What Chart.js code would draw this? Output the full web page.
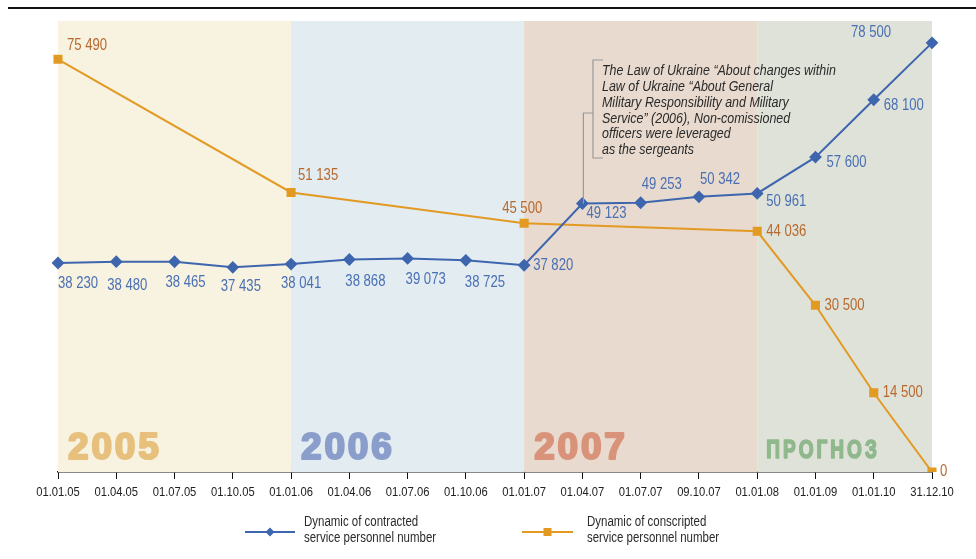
<!DOCTYPE html>
<html>
<head>
<meta charset="utf-8">
<script src="https://cdn.jsdelivr.net/npm/chart.js@4"></script>
<style>
  html, body { margin: 0; padding: 0; background: #fff; }
  #wrap { width: 976px; height: 559px; }
</style>
</head>
<body>
<div id="wrap"><canvas id="staffChart" width="976" height="559"></canvas></div>
<script>
const dateLabels = ['01.01.05', '01.04.05', '01.07.05', '01.10.05', '01.01.06', '01.04.06', '01.07.06', '01.10.06',
    '01.01.07', '01.04.07', '01.07.07', '09.10.07', '01.01.08', '01.01.09', '01.01.10', '31.12.10'];
const contractedValues = [38230, 38480, 38465, 37435, 38041, 38868, 39073, 38725,
    37820, 49123, 49253, 50342, 50961, 57600, 68100, 78500];
const conscriptedValues = [75490, null, null, null, 51135, null, null, null,
    45500, null, null, null, 44036, 30500, 14500, 0];
const periodNames = ['2005', '2006', '2007', 'ПРОГНОЗ'];
const periodStarts = [0, 4, 8, 12];
const periodEnds = [4, 8, 12, 15];
const lawNote = [
    'The Law of Ukraine \u201cAbout changes within',
    'Law of Ukraine \u201cAbout General',
    'Military Responsibility and Military',
    'Service\u201d (2006), Non-comissioned',
    'officers were leveraged',
    'as the sergeants'
];
const legendNames = [
    ['Dynamic of contracted', 'service personnel number'],
    ['Dynamic of conscripted', 'service personnel number']
];

// label placement next to each point: [dx, dy] from the point, text drawn left-aligned
const contractedLabelPos = [[0, 21], [-9, 24], [-9, 21], [-12, 19], [-10, 20], [-4, 22], [-2, 21], [-1, 22],
    [9, 0], [4, 10], [1, -18], [1, -17], [9, 8], [11, 5], [10, 6], [-81, -10]];
const conscriptedLabelPos = [[9, -14], null, null, null, [7, -17], null, null, null,
    [-22, -15], null, null, null, [9, 0], [9, 0], [9, 0], [8, 0]];

const blue = '#3e66ae';
const orange = '#e29a23';
const sans = '"Liberation Sans", Arial, sans-serif';
const periodFills = ['#f8f2e1', '#e2ecf1', '#e8dace', '#dfe2d9'];
const periodColors = ['#e8c07e', '#8b9ecb', '#d8937a', '#8fb88c'];

function formatNumber(v) {
    return String(v).replace(/\B(?=(\d{3})+(?!\d))/g, ' ');
}

// condensed text: regular face squeezed horizontally
function narrowText(ctx, text, x, y, align, squeeze) {
    ctx.save();
    ctx.translate(x, y);
    ctx.scale(squeeze || 0.82, 1);
    ctx.textAlign = align || 'left';
    ctx.fillText(text, 0, 0);
    ctx.restore();
}

// heavy display lettering: filled and outlined in the same colour
function heavyText(ctx, text, x, y, squeeze, spacing, outline) {
    ctx.save();
    ctx.translate(x, y);
    ctx.scale(squeeze, 1);
    ctx.textAlign = 'left';
    ctx.lineWidth = outline / squeeze;
    ctx.lineJoin = 'round';
    let cx = 0;
    for (const ch of text) {
        ctx.fillText(ch, cx, 0);
        ctx.strokeText(ch, cx, 0);
        cx += ctx.measureText(ch).width + spacing / squeeze;
    }
    ctx.restore();
}

const backgroundPlugin = {
    id: 'periods',
    beforeDatasetsDraw(chart) {
        const ctx = chart.ctx;
        const x = chart.scales.x;
        const area = chart.chartArea;
        ctx.save();
        // rule across the top
        ctx.fillStyle = '#111';
        ctx.fillRect(8, 7, 968, 2);
        periodStarts.forEach((start, i) => {
            const left = x.getPixelForValue(start);
            const right = x.getPixelForValue(periodEnds[i]);
            ctx.fillStyle = periodFills[i];
            ctx.fillRect(left, area.top, right - left, area.bottom - area.top);
        });
        ctx.textBaseline = 'alphabetic';
        periodNames.forEach((name, i) => {
            const left = x.getPixelForValue(periodStarts[i]);
            ctx.fillStyle = periodColors[i];
            ctx.strokeStyle = periodColors[i];
            if (i < 3) {
                ctx.font = 'bold 37px ' + sans;
                heavyText(ctx, name, left + 10, 459, 1.0, 2.8, 2.2);
            } else {
                ctx.font = 'bold 26.5px ' + sans;
                heavyText(ctx, name, left + 9, 458, 0.72, 3, 1.2);
            }
        });
        ctx.restore();
    }
};

const notesPlugin = {
    id: 'notes',
    afterDatasetsDraw(chart) {
        const ctx = chart.ctx;
        const x = chart.scales.x;
        const y = chart.scales.y;
        ctx.save();
        ctx.textBaseline = 'middle';

        // date labels under the axis
        ctx.fillStyle = '#222';
        ctx.font = '13.5px ' + sans;
        dateLabels.forEach((label, i) => {
            narrowText(ctx, label, x.getPixelForValue(i), 492, 'center', 0.83);
        });

        ctx.font = '16px ' + sans;
        const series = [
            { values: contractedValues, pos: contractedLabelPos, color: '#4a70b3' },
            { values: conscriptedValues, pos: conscriptedLabelPos, color: '#b8692e' }
        ];
        series.forEach(s => {
            ctx.fillStyle = s.color;
            s.values.forEach((v, i) => {
                if (v === null) return;
                const px = x.getPixelForValue(i);
                const py = y.getPixelForValue(v);
                narrowText(ctx, formatNumber(v), px + s.pos[i][0], py + s.pos[i][1], 'left', 0.82);
            });
        });

        // bracket pointing to the 01.04.07 point
        const ax = x.getPixelForValue(9) + 1;
        const ay = y.getPixelForValue(contractedValues[9]);
        ctx.strokeStyle = '#9a9a9a';
        ctx.lineWidth = 1.2;
        ctx.beginPath();
        ctx.moveTo(ax, ay);
        ctx.lineTo(ax, 113);
        ctx.lineTo(593, 113);
        ctx.moveTo(603, 60);
        ctx.lineTo(593, 60);
        ctx.lineTo(593, 158);
        ctx.lineTo(603, 158);
        ctx.stroke();

        ctx.fillStyle = '#2a2a2a';
        ctx.font = 'italic 15px ' + sans;
        lawNote.forEach((line, i) => {
            narrowText(ctx, line, 602, 71 + i * 15.8, 'left', 0.83);
        });

        // legend
        const items = [
            { x0: 245, x1: 295, tx: 304, color: blue, shape: 'diamond' },
            { x0: 522, x1: 573, tx: 587, color: orange, shape: 'square' }
        ];
        items.forEach((item, i) => {
            ctx.strokeStyle = item.color;
            ctx.fillStyle = item.color;
            ctx.lineWidth = 2;
            ctx.beginPath();
            ctx.moveTo(item.x0, 532);
            ctx.lineTo(item.x1, 532);
            ctx.stroke();
            const mx = (item.x0 + item.x1) / 2;
            ctx.beginPath();
            if (item.shape === 'diamond') {
                ctx.moveTo(mx, 527.5);
                ctx.lineTo(mx + 4.5, 532);
                ctx.lineTo(mx, 536.5);
                ctx.lineTo(mx - 4.5, 532);
                ctx.closePath();
                ctx.fill();
            } else {
                ctx.fillRect(mx - 4, 528, 8, 8);
            }
            ctx.fillStyle = '#2b2b2b';
            ctx.font = '14px ' + sans;
            narrowText(ctx, legendNames[i][0], item.tx, 522, 'left', 0.82);
            narrowText(ctx, legendNames[i][1], item.tx, 538, 'left', 0.82);
        });
        ctx.restore();
    }
};

const ctx = document.getElementById('staffChart').getContext('2d');
new Chart(ctx, {
    type: 'line',
    data: {
        labels: dateLabels,
        datasets: [
            {
                label: legendNames[0].join(' '),
                data: contractedValues,
                borderColor: blue,
                backgroundColor: blue,
                borderWidth: 2,
                pointStyle: 'rectRot',
                pointRadius: 5,
                pointHoverRadius: 5,
                tension: 0,
                fill: false
            },
            {
                label: legendNames[1].join(' '),
                data: conscriptedValues,
                borderColor: orange,
                backgroundColor: orange,
                borderWidth: 2,
                pointStyle: 'rect',
                pointRadius: 5,
                pointHoverRadius: 5,
                spanGaps: true,
                tension: 0,
                fill: false
            }
        ]
    },
    options: {
        responsive: false,
        animation: false,
        events: [],
        layout: { padding: { left: 58, right: 44, top: 21, bottom: 0 } },
        plugins: {
            legend: { display: false },
            tooltip: { enabled: false }
        },
        scales: {
            x: {
                offset: false,
                grid: {
                    drawOnChartArea: false,
                    drawTicks: true,
                    tickLength: 7,
                    color: '#111',
                    lineWidth: 1
                },
                border: { display: true, color: '#111', width: 1.5 },
                ticks: { display: false },
                afterFit(scale) {
                    scale.height = 87;
                }
            },
            y: {
                display: false,
                min: 0,
                max: 82500
            }
        }
    },
    plugins: [backgroundPlugin, notesPlugin]
});
</script>
</body>
</html>
